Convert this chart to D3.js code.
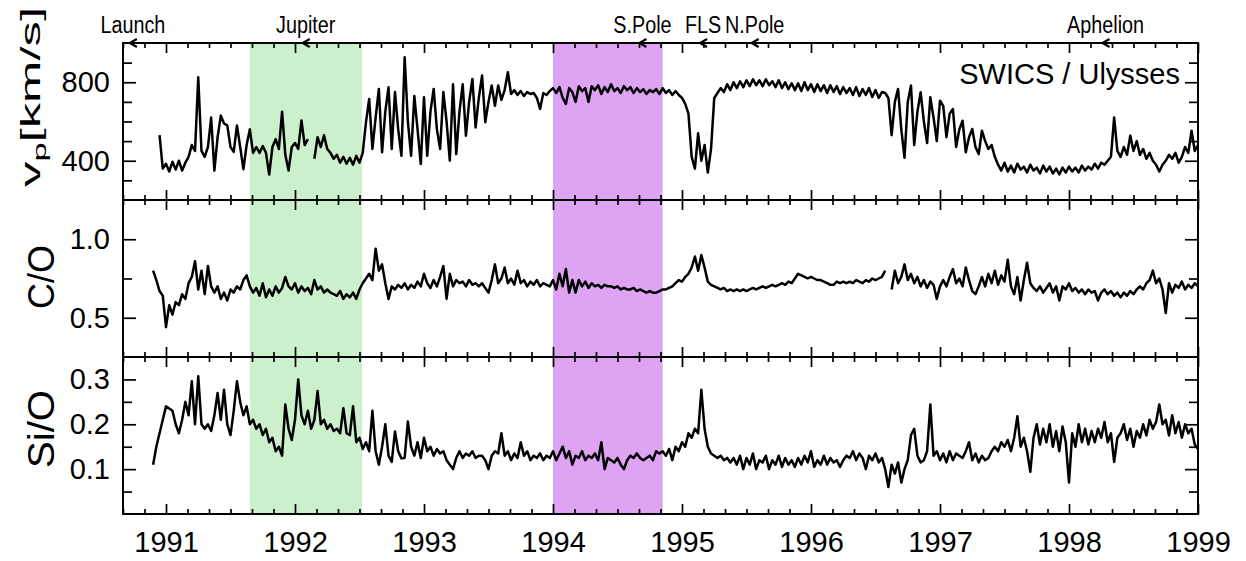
<!DOCTYPE html>
<html>
<head>
<meta charset="utf-8">
<script src="https://cdn.jsdelivr.net/npm/d3@7"></script>
<style>
  body { margin: 0; background: #fff; }
  svg text { font-family: "Liberation Sans", Arial, Helvetica, sans-serif; fill: #000; }
</style>
</head>
<body>
<svg id="chart"></svg>
<script>
// sampling grid of the series (years)
const startYear = 1990.9;
const stepYear = 0.025;

// proton speed [km/s]
const vp = [
  null, null, 530, 360, 385, 345, 395, 355, 400, 350,
  390, 420, 480, 450, 825, 450, 420, 470, 620, 350,
  520, 630, 590, 580, 470, 445, 580, 470, 357, 480,
  560, 440, 470, 440, 475, 440, 330, 470, 510, 460,
  650, 430, 350, 470, 490, 460, 605, 480, 510, null,
  410, 520, 470, 530, 460, 440, 410, 430, 390, 420,
  385, 415, 380, 425, 390, 440, 595, 715, 460, 620,
  766, 443, 650, 775, 460, 750, 560, 425, 928, 600,
  425, 730, 560, 383, 723, 425, 650, 766, 560, 460,
  750, 600, 400, 790, 434, 650, 790, 528, 700, 817,
  570, 720, 834, 596, 700, 783, 680, 783, 710, 760,
  851, 740, 760, 735, 755, 730, 750, 740, 745, 720,
  664, 745, 735, 755, 770, 745, 775, 720, 690, 770,
  750, 700, 780, 755, 770, 700, 780, 760, 785, 740,
  775, 750, 790, 755, 770, 745, 780, 760, 775, 745,
  770, 750, 765, 740, 760, 750, 765, 740, 770, 745,
  760, 735, 755, 735, 720, 690, 640, 420, 360, 540,
  400, 480, 340, 460, 720, 745, 770, 750, 790, 760,
  800, 770, 805, 775, 810, 780, 815, 785, 810, 780,
  815, 785, 805, 775, 810, 770, 800, 765, 795, 760,
  795, 755, 800, 760, 790, 750, 790, 755, 785, 745,
  785, 750, 780, 740, 775, 745, 770, 735, 775, 730,
  765, 735, 770, 725, 760, 720, 750, 745, 720, 530,
  700, 766, 560, 415, 700, 783, 480, 650, 749, 600,
  490, 723, 620, 500, 706, 680, 520, 640, 664, 470,
  560, 604, 443, 520, 562, 470, 434, 553, 500, 460,
  480, 420, 380, 350, 390, 345, 375, 340, 385, 355,
  370, 340, 380, 350, 365, 335, 375, 345, 370, 335,
  360, 330, 365, 340, 370, 345, 365, 340, 375, 350,
  370, 355, 385, 360, 390, 380, 400, 420, 621, 450,
  420, 470, 430, 528, 450, 500, 430, 460, 410, 440,
  400, 380, 345, 380, 400, 430, 410, 440, 390, 420,
  470, 440, 553, 450, 480
];

// C/O ratio
const co = [
  0.80, 0.74, 0.67, 0.64, 0.44, 0.58, 0.52, 0.60, 0.58, 0.65,
  0.62, 0.72, 0.76, 0.86, 0.68, 0.80, 0.65, 0.83, 0.70, 0.66,
  0.70, 0.62, 0.66, 0.61, 0.68, 0.66, 0.70, 0.68, 0.74, 0.77,
  0.70, 0.66, 0.69, 0.64, 0.72, 0.63, 0.68, 0.64, 0.70, 0.66,
  0.69, 0.76, 0.70, 0.68, 0.72, 0.66, 0.70, 0.67, 0.69, 0.65,
  0.74, 0.68, 0.70, 0.66, 0.68, 0.66, 0.65, 0.64, 0.67, 0.62,
  0.65, 0.63, 0.66, 0.62, 0.68, 0.72, 0.75, 0.78, 0.74, 0.94,
  0.80, 0.84, 0.72, 0.62, 0.70, 0.68, 0.71, 0.69, 0.72, 0.68,
  0.71, 0.69, 0.73, 0.70, 0.78, 0.72, 0.69, 0.74, 0.70, 0.76,
  0.83, 0.62, 0.78, 0.70, 0.74, 0.72, 0.73, 0.70, 0.74, 0.71,
  0.72, 0.70, 0.72, 0.69, 0.66, 0.74, 0.84, 0.72, 0.75, 0.82,
  0.72, 0.75, 0.71, 0.80, 0.72, 0.74, 0.70, 0.73, 0.71, 0.74,
  0.70, 0.72, 0.71, 0.70, 0.74, 0.68, 0.78, 0.70, 0.81, 0.66,
  0.74, 0.66, 0.74, 0.70, 0.73, 0.69, 0.72, 0.70, 0.71, 0.69,
  0.71, 0.70, 0.70, 0.69, 0.70, 0.68, 0.69, 0.68, 0.68, 0.69,
  0.67, 0.68, 0.67, 0.66, 0.67, 0.66, 0.66, 0.67, 0.68, 0.68,
  0.69, 0.70, 0.72, 0.74, 0.73, 0.76, 0.78, 0.82, 0.89, 0.80,
  0.90, 0.82, 0.73, 0.71, 0.70, 0.69, 0.68, 0.69, 0.67, 0.68,
  0.67, 0.68, 0.67, 0.68, 0.67, 0.68, 0.69, 0.68, 0.69, 0.70,
  0.69, 0.70, 0.71, 0.70, 0.71, 0.72, 0.71, 0.73, 0.72, 0.75,
  0.78, 0.77, 0.76, 0.75, 0.76, 0.75, 0.74, 0.74, 0.73, 0.72,
  0.71, 0.71, 0.73, 0.72, 0.73, 0.72, 0.73, 0.72, 0.74, 0.73,
  0.72, 0.74, 0.73, 0.75, 0.74, 0.75, 0.76, 0.80, null, 0.68,
  0.80, 0.72, 0.76, 0.84, 0.74, 0.78, 0.72, 0.76, 0.70, 0.74,
  0.69, 0.73, 0.71, 0.62, 0.70, 0.74, 0.70, 0.76, 0.81, 0.72,
  0.75, 0.70, 0.82, 0.74, 0.67, 0.65, 0.70, 0.76, 0.70, 0.78,
  0.72, 0.80, 0.71, 0.77, 0.73, 0.87, 0.70, 0.65, 0.76, 0.61,
  0.74, 0.85, 0.72, 0.69, 0.67, 0.70, 0.66, 0.69, 0.72, 0.66,
  0.70, 0.61, 0.70, 0.68, 0.72, 0.67, 0.69, 0.66, 0.68, 0.65,
  0.68, 0.66, 0.67, 0.61, 0.66, 0.68, 0.65, 0.67, 0.64, 0.66,
  0.63, 0.66, 0.64, 0.67, 0.65, 0.68, 0.70, 0.68, 0.72, 0.74,
  0.80, 0.72, 0.75, 0.68, 0.53, 0.72, 0.66, 0.71, 0.69, 0.73,
  0.68, 0.71, 0.69, 0.72, 0.70
];

// Si/O ratio
const sio = [
  0.11, 0.15, 0.18, 0.21, 0.24, 0.235, 0.23, 0.20, 0.18, 0.21,
  0.25, 0.22, 0.296, 0.20, 0.307, 0.20, 0.19, 0.20, 0.185, 0.22,
  0.27, 0.21, 0.277, 0.20, 0.176, 0.23, 0.296, 0.25, 0.22, 0.24,
  0.20, 0.21, 0.19, 0.20, 0.176, 0.19, 0.16, 0.17, 0.14, 0.15,
  0.13, 0.244, 0.19, 0.165, 0.21, 0.30, 0.22, 0.20, 0.23, 0.19,
  0.21, 0.274, 0.20, 0.21, 0.19, 0.20, 0.185, 0.19, 0.18, 0.236,
  0.18, 0.176, 0.24, 0.16, 0.17, 0.145, 0.16, 0.14, 0.23, 0.14,
  0.11, 0.15, 0.20, 0.13, 0.116, 0.184, 0.14, 0.124, 0.125, 0.206,
  0.15, 0.13, 0.16, 0.125, 0.17, 0.14, 0.15, 0.13, 0.145, 0.135,
  0.14, 0.12, 0.11, 0.10, 0.125, 0.14, 0.125, 0.135, 0.13, 0.14,
  0.125, 0.13, 0.13, 0.12, 0.10, 0.13, 0.14, 0.135, 0.18, 0.13,
  0.14, 0.12, 0.135, 0.125, 0.16, 0.13, 0.14, 0.12, 0.13, 0.125,
  0.135, 0.12, 0.13, 0.125, 0.14, 0.12, 0.135, 0.15, 0.125, 0.14,
  0.11, 0.13, 0.125, 0.14, 0.12, 0.13, 0.125, 0.135, 0.12, 0.16,
  0.10, 0.125, 0.12, 0.115, 0.125, 0.11, 0.10, 0.12, 0.13, 0.125,
  0.135, 0.125, 0.12, 0.125, 0.13, 0.12, 0.14, 0.135, 0.14, 0.13,
  0.145, 0.12, 0.15, 0.14, 0.16, 0.15, 0.18, 0.17, 0.19, 0.18,
  0.277, 0.19, 0.15, 0.135, 0.13, 0.125, 0.13, 0.12, 0.125, 0.115,
  0.125, 0.11, 0.13, 0.10, 0.125, 0.11, 0.135, 0.10, 0.12, 0.115,
  0.13, 0.10, 0.12, 0.11, 0.13, 0.105, 0.125, 0.11, 0.12, 0.105,
  0.125, 0.11, 0.13, 0.115, 0.14, 0.105, 0.12, 0.11, 0.13, 0.11,
  0.125, 0.115, 0.12, 0.105, 0.12, 0.13, 0.125, 0.14, 0.12, 0.135,
  0.125, 0.10, 0.13, 0.12, 0.135, 0.115, 0.125, 0.10, 0.06, 0.11,
  0.09, 0.115, 0.07, 0.10, 0.12, 0.176, 0.19, 0.13, 0.115, 0.12,
  0.14, 0.244, 0.13, 0.14, 0.12, 0.135, 0.115, 0.14, 0.12, 0.135,
  0.13, 0.125, 0.14, 0.16, 0.12, 0.135, 0.115, 0.13, 0.12, 0.125,
  0.14, 0.15, 0.14, 0.16, 0.15, 0.165, 0.14, 0.17, 0.218, 0.15,
  0.17, 0.14, 0.094, 0.17, 0.20, 0.155, 0.19, 0.16, 0.20, 0.15,
  0.185, 0.14, 0.195, 0.16, 0.07, 0.18, 0.15, 0.20, 0.16, 0.19,
  0.155, 0.185, 0.16, 0.19, 0.17, 0.205, 0.16, 0.18, 0.116, 0.17,
  0.18, 0.20, 0.165, 0.19, 0.15, 0.185, 0.17, 0.20, 0.175, 0.21,
  0.19, 0.205, 0.244, 0.20, 0.21, 0.175, 0.22, 0.18, 0.205, 0.17,
  0.20, 0.18, 0.19, 0.155, 0.145
];

// shaded intervals (years)
const bandStart = [1991.65, 1994.0];
const bandEnd = [1992.52, 1994.85];
const bandColor = ['#ccf0cc', '#dea4f3'];

// mission events along the top axis
const eventNames = ['Launch', 'Jupiter', 'S.Pole', 'FLS', 'N.Pole', 'Aphelion'];
const eventYears = [1990.72, 1992.06, 1994.67, 1995.14, 1995.54, 1998.26];

const yearTicks = [1991, 1992, 1993, 1994, 1995, 1996, 1997, 1998, 1999];

const width = 1246;
const height = 561;
const left = 123;
const right = 1198;
const panelTop = [43, 200, 357];
const panelH = 157;

const panels = [
  { values: vp, domain: [200, 1000], major: [400, 800], minor: [300, 500, 600, 700, 900], fmt: d3.format('d') },
  { values: co, domain: [0.25, 1.25], major: [0.5, 1.0], minor: [0.75], fmt: d3.format('.1f') },
  { values: sio, domain: [0, 0.35], major: [0.1, 0.2, 0.3], minor: [0.05, 0.15, 0.25], fmt: d3.format('.1f') }
];

const svg = d3.select('#chart')
  .attr('width', width)
  .attr('height', height)

const x = d3.scaleLinear()
  .domain([1990 + 4 / 6, 1999])
  .range([left, right])

const minorX = d3.range(4, 55).map(k => 1990 + k / 6).filter(t => Math.abs(t - Math.round(t)) > 0.01);
const years = vp.map((d, i) => startYear + i * stepYear);

// shaded bands behind all three panels
svg.append('g')
  .selectAll('rect')
  .data(bandStart)
  .enter()
  .append('rect')
  .attr('x', (d) => x(d))
  .attr('width', (d, i) => x(bandEnd[i]) - x(d))
  .attr('y', panelTop[0])
  .attr('height', panelH * 3)
  .attr('fill', (d, i) => bandColor[i])

function styleTicks(g) {
  g.select('.domain').remove();
  g.selectAll('line').attr('stroke', '#000').attr('stroke-width', 1.7);
}

panels.forEach((p, k) => {
  const top = panelTop[k];
  const y = d3.scaleLinear().domain(p.domain).range([top + panelH, top]);
  const g = svg.append('g');

  const line = d3.line()
    .defined(d => d[1] != null)
    .x(d => x(d[0]))
    .y(d => y(d[1]))

  g.append('path')
    .datum(p.values.map((v, i) => [years[i], v]))
    .attr('d', line)
    .attr('fill', 'none')
    .attr('stroke', '#000')
    .attr('stroke-width', 2.5)
    .attr('stroke-linejoin', 'round')

  // x ticks, inward on top and bottom
  g.append('g').attr('transform', `translate(0,${top + panelH})`)
    .call(d3.axisBottom(x).tickValues(yearTicks).tickSize(-10).tickFormat('')).call(styleTicks);
  g.append('g').attr('transform', `translate(0,${top + panelH})`)
    .call(d3.axisBottom(x).tickValues(minorX).tickSize(-5).tickFormat('')).call(styleTicks);
  g.append('g').attr('transform', `translate(0,${top})`)
    .call(d3.axisTop(x).tickValues(yearTicks).tickSize(-10).tickFormat('')).call(styleTicks);
  g.append('g').attr('transform', `translate(0,${top})`)
    .call(d3.axisTop(x).tickValues(minorX).tickSize(-5).tickFormat('')).call(styleTicks);

  // y ticks, inward on both sides
  g.append('g').attr('transform', `translate(${left},0)`)
    .call(d3.axisLeft(y).tickValues(p.major).tickSize(-13).tickPadding(13).tickFormat(p.fmt))
    .call(styleTicks)
    .selectAll('text').style('font-size', '29px');
  g.append('g').attr('transform', `translate(${left},0)`)
    .call(d3.axisLeft(y).tickValues(p.minor).tickSize(-9).tickFormat('')).call(styleTicks);
  g.append('g').attr('transform', `translate(${right},0)`)
    .call(d3.axisRight(y).tickValues(p.major).tickSize(-13).tickFormat('')).call(styleTicks);
  g.append('g').attr('transform', `translate(${right},0)`)
    .call(d3.axisRight(y).tickValues(p.minor).tickSize(-9).tickFormat('')).call(styleTicks);

  g.append('rect')
    .attr('x', left)
    .attr('y', top)
    .attr('width', right - left)
    .attr('height', panelH)
    .attr('fill', 'none')
    .attr('stroke', '#000')
    .attr('stroke-width', 2)
});

// year labels
svg.append('g')
  .attr('transform', `translate(0,${panelTop[2] + panelH})`)
  .call(d3.axisBottom(x).tickValues(yearTicks).tickSize(0).tickPadding(17).tickFormat(d3.format('d')))
  .call(g => g.select('.domain').remove())
  .selectAll('text').style('font-size', '29px')

// event arrows on the top border
const ev = svg.append('g');
ev.selectAll('path')
  .data(eventYears)
  .enter()
  .append('path')
  .attr('d', (d) => `M${x(d) + 7},${panelTop[0] - 4} L${x(d)},${panelTop[0]} L${x(d) + 7},${panelTop[0] + 4}`)
  .attr('fill', 'none')
  .attr('stroke', '#000')
  .attr('stroke-width', 2.2)
ev.selectAll('text')
  .data(eventNames)
  .enter()
  .append('text')
  .attr('transform', (d, i) => `translate(${x(eventYears[i]) + 3},33) scale(0.86,1)`)
  .attr('text-anchor', 'middle')
  .style('font-size', '23px')
  .text(d => d)

svg.append('text')
  .attr('x', 1180)
  .attr('y', 84)
  .attr('text-anchor', 'end')
  .style('font-size', '29px')
  .text('SWICS / Ulysses')

// axis titles
const vt = svg.append('text')
  .attr('transform', 'translate(40,97) rotate(-90)')
  .attr('text-anchor', 'middle')
  .attr('textLength', 180)
  .attr('lengthAdjust', 'spacingAndGlyphs')
  .style('font-size', '28px')
vt.append('tspan').text('v');
vt.append('tspan').attr('dy', 6).style('font-size', '19px').text('p');
vt.append('tspan').attr('dy', -6).text('[km/s]');

svg.append('text')
  .attr('transform', 'translate(54,277) rotate(-90)')
  .attr('text-anchor', 'middle')
  .style('font-size', '36px')
  .text('C/O')

svg.append('text')
  .attr('transform', 'translate(54,429) rotate(-90)')
  .attr('text-anchor', 'middle')
  .attr('textLength', 78)
  .attr('lengthAdjust', 'spacingAndGlyphs')
  .style('font-size', '36px')
  .text('Si/O')
</script>
</body>
</html>
